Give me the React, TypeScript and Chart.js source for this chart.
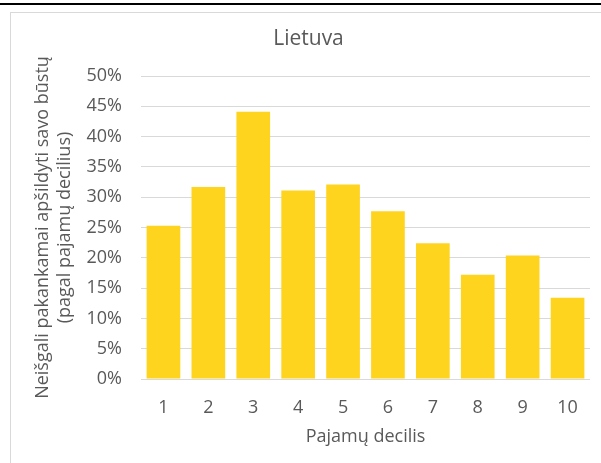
import React, { useEffect, useRef } from "react";
import { Chart, registerables } from "chart.js";

Chart.register(...registerables);

const categories = ["1", "2", "3", "4", "5", "6", "7", "8", "9", "10"];
const values = [25.3, 31.7, 44.1, 31.1, 32.1, 27.7, 22.4, 17.2, 20.4, 13.4];
const chartTitle = "Lietuva";
const yAxisTitle = ["Neišgali pakankamai apšildyti savo būstų", "(pagal pajamų decilius)"];
const xAxisTitle = "Pajamų decilis";
const yMin = 0;
const yMax = 50;
const yStep = 5;

const FONT = "'Open Sans', 'Noto Sans', sans-serif";
const TEXT = "#595959";

export default function App() {
  const ref = useRef<HTMLCanvasElement | null>(null);

  useEffect(() => {
    if (!ref.current) return;
    const chart = new Chart(ref.current, {
      type: "bar",
      data: {
        labels: categories,
        datasets: [
          {
            data: values,
            backgroundColor: "#FFD41F",
            borderWidth: 0,
            barPercentage: 0.75,
            categoryPercentage: 1,
          },
        ],
      },
      options: {
        animation: false,
        responsive: false,
        devicePixelRatio: 1,
        layout: { padding: { left: 27, right: 11, top: 0, bottom: 0 } },
        plugins: {
          legend: { display: false },
          tooltip: { enabled: false },
          title: {
            display: true,
            text: chartTitle,
            color: TEXT,
            font: { family: FONT, size: 21, weight: "normal", lineHeight: 1.2 },
            padding: { top: 26.6, bottom: 24.2 },
          },
        },
        scales: {
          x: {
            grid: { display: false, drawTicks: false },
            border: { display: false },
            ticks: {
              color: TEXT,
              font: { family: FONT, size: 18, lineHeight: 1.2 },
              padding: 18,
              maxRotation: 0,
            },
            title: {
              display: true,
              text: xAxisTitle,
              color: TEXT,
              font: { family: FONT, size: 18, lineHeight: 1.2 },
              padding: { top: 0, bottom: 15.2 },
            },
            afterFit: (scale: any) => {
              scale.height = 84;
            },
          },
          y: {
            min: yMin,
            max: yMax,
            grid: { color: "#D9D9D9", lineWidth: 1, drawTicks: false },
            border: { display: false },
            ticks: {
              stepSize: yStep,
              color: TEXT,
              font: { family: FONT, size: 18, lineHeight: 1.2 },
              padding: 19,
              callback: (v: any) => `${v}%`,
            },
            title: {
              display: true,
              text: yAxisTitle,
              color: TEXT,
              font: { family: FONT, size: 18, lineHeight: 1.2 },
              padding: { top: 5.2, bottom: 0 },
            },
            afterFit: (scale: any) => {
              scale.width = 114;
            },
          },
        },
      },
    });
    return () => chart.destroy();
  }, []);

  return (
    <div
      style={{
        position: "fixed",
        left: 0,
        top: 0,
        width: 601,
        height: 463,
        overflow: "hidden",
        background: "#fff",
      }}
    >
      <div
        style={{
          position: "absolute",
          left: 0,
          top: 3,
          width: 601,
          height: 2,
          background: "#000",
        }}
      />
      <div
        style={{
          position: "absolute",
          left: 10,
          top: 12,
          width: 620,
          height: 480,
          borderTop: "1px solid #D9D9D9",
          borderLeft: "1px solid #D9D9D9",
        }}
      />
      <canvas
        ref={ref}
        width={601}
        height={463}
        style={{ position: "absolute", left: 0, top: 0, width: 601, height: 463 }}
      />
    </div>
  );
}
